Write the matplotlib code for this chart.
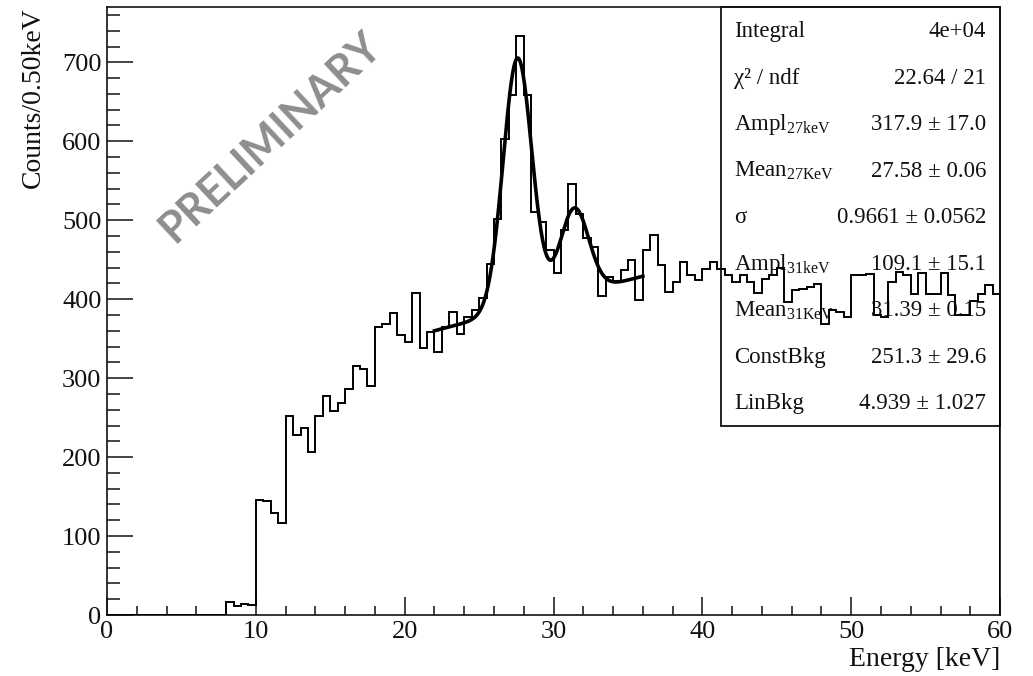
import numpy as np
import matplotlib
matplotlib.use("Agg")
import matplotlib.pyplot as plt
from matplotlib.patches import Rectangle
from matplotlib.ticker import MultipleLocator

plt.rcParams['font.family'] = ['Liberation Serif', 'DejaVu Serif']
plt.rcParams['mathtext.fontset'] = 'custom'
plt.rcParams['mathtext.rm'] = 'Liberation Serif'

# histogram: 0.5 keV bins from 0 to 60 keV
e_lo, e_hi, bin_w = 0.0, 60.0, 0.5
counts = [0] * 16 + [
    17, 12, 14, 13, 146, 144, 129, 117, 252, 228,
    237, 207, 252, 277, 258, 269, 286, 316, 311, 290,
    365, 368, 383, 355, 346, 408, 338, 359, 333, 365,
    384, 356, 377, 386, 401, 445, 502, 603, 658, 733,
    658, 511, 498, 462, 433, 487, 546, 508, 477, 466,
    404, 428, 423, 437, 450, 399, 462, 481, 443, 409,
    422, 447, 431, 424, 438, 447, 438, 430, 422, 430,
    422, 408, 425, 430, 439, 397, 411, 413, 415, 419,
    368, 386, 384, 378, 430, 431, 432, 380, 378, 422,
    435, 430, 407, 433, 407, 407, 433, 405, 380, 380,
    398, 407, 418, 407,
]

# fit result shown in the stats box
ampl27, mean27, sigma = 317.9, 27.58, 0.9661
ampl31, mean31 = 109.1, 31.39
const_bkg, lin_bkg = 251.3, 4.939
fit_lo, fit_hi = 22.0, 36.0

stat_names = ['Integral', 'χ² / ndf', r'Ampl$_{\mathrm{27keV}}$',
              r'Mean$_{\mathrm{27KeV}}$', 'σ', r'Ampl$_{\mathrm{31keV}}$',
              r'Mean$_{\mathrm{31KeV}}$', 'ConstBkg', 'LinBkg']
stat_vals = ['4e+04', '22.64 / 21', '317.9 ± 17.0', '27.58 ± 0.06',
             '0.9661 ± 0.0562', '109.1 ± 15.1', '31.39 ± 0.15',
             '251.3 ± 29.6', '4.939 ± 1.027']


def fit_func(x):
    g1 = ampl27 * np.exp(-0.5 * ((x - mean27) / sigma) ** 2)
    g2 = ampl31 * np.exp(-0.5 * ((x - mean31) / sigma) ** 2)
    return const_bkg + lin_bkg * x + g1 + g2


fig = plt.figure(figsize=(10.33, 6.76), dpi=100)
ax = fig.add_axes([0.1036, 0.0902, 0.8645, 0.8994])

edges = np.arange(e_lo, e_hi + bin_w / 2, bin_w)
ax.stairs(counts, edges, color='black', lw=1.4, zorder=4)

xf = np.linspace(fit_lo, fit_hi, 400)
ax.plot(xf, fit_func(xf), color='black', lw=2.6, zorder=5)

ax.set_xlim(0, 60)
ax.set_ylim(0, 770)
ax.xaxis.set_major_locator(MultipleLocator(10))
ax.xaxis.set_minor_locator(MultipleLocator(2))
ax.yaxis.set_major_locator(MultipleLocator(100))
ax.yaxis.set_minor_locator(MultipleLocator(20))
ax.tick_params(axis='both', which='both', direction='in', width=1.1,
               labelsize=19, colors='#111111')
ax.tick_params(axis='x', which='major', length=13, pad=4)
ax.tick_params(axis='x', which='minor', length=6.5)
ax.tick_params(axis='y', which='major', length=18.5, pad=4)
ax.tick_params(axis='y', which='minor', length=9.5)
for s in ax.spines.values():
    s.set_linewidth(1.2)
    s.set_color('#111111')

ax.set_xlabel('Energy [keV]', fontsize=20, loc='right', color='#111111')
ax.xaxis.set_label_coords(1.0, -0.052)
ax.set_ylabel('Counts/0.50keV', fontsize=20, loc='top', color='#111111')
ax.yaxis.set_label_coords(-0.069, 1.0)

# stats box
ax.add_patch(Rectangle((0.6876, 0.311), 0.3124, 0.689, transform=ax.transAxes,
                       facecolor='white', edgecolor='#111111', lw=1.3,
                       zorder=2, clip_on=False))
for i, (name, val) in enumerate(zip(stat_names, stat_vals)):
    y = (615 - (37 + 46.5 * i)) / 608
    ax.text(0.702, y, name, transform=ax.transAxes, fontsize=16.5,
            va='baseline', ha='left', zorder=3, color='#111111')
    ax.text(0.9843, y, val, transform=ax.transAxes, fontsize=16.5,
            va='baseline', ha='right', zorder=3, color='#111111')

ax.text(0.1825, 0.786, 'PRELIMINARY', transform=ax.transAxes, rotation=43,
        fontsize=31, family='Lato', weight='bold', color='#8e8e8e',
        ha='center', va='center', rotation_mode='anchor', zorder=1)

fig.savefig('out.png', dpi=100)
